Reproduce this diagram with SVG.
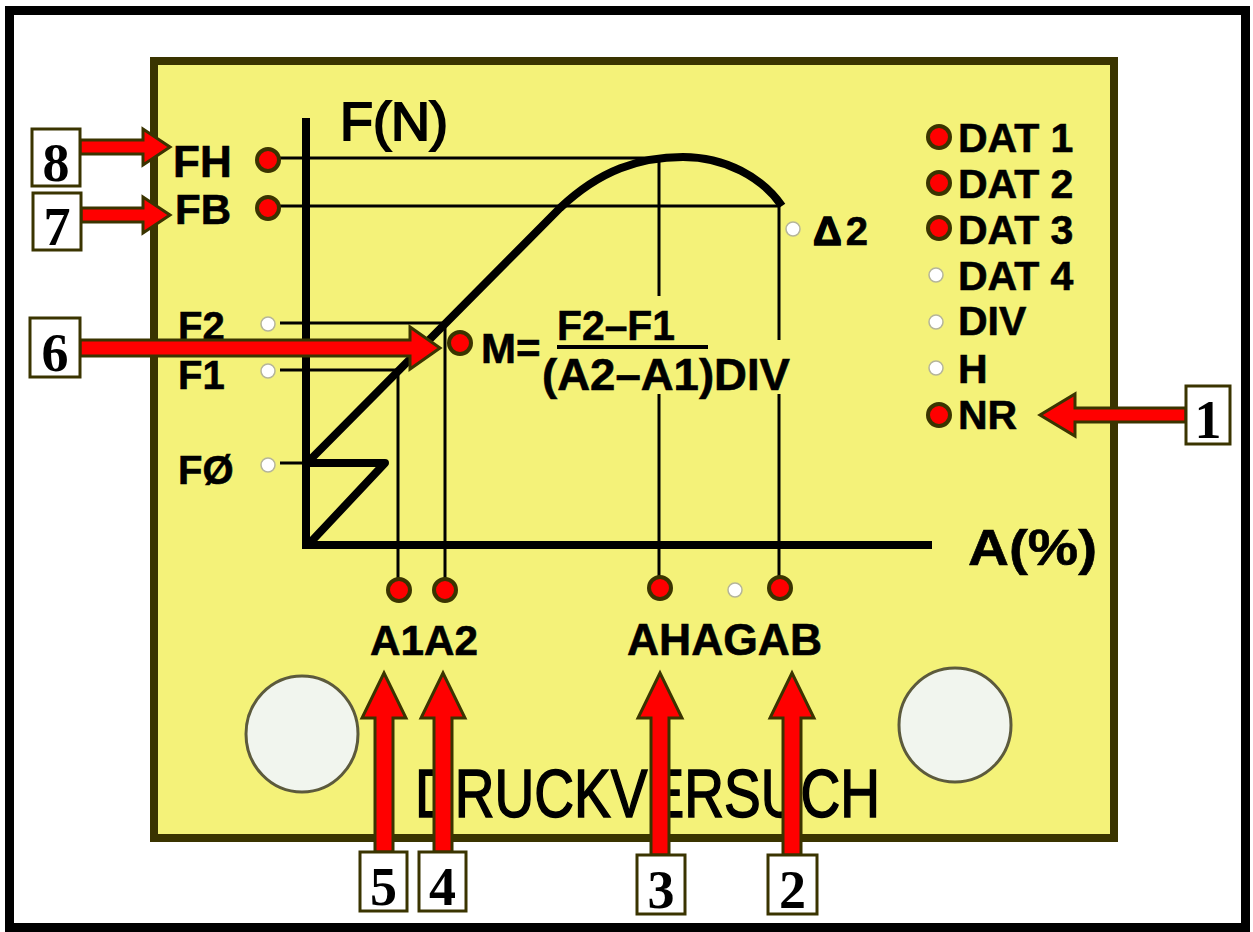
<svg xmlns="http://www.w3.org/2000/svg" width="1253" height="932" viewBox="0 0 1253 932">
<style>
.lbl{font-family:"Liberation Sans",Arial,sans-serif;font-weight:bold;fill:#000;stroke:#000;stroke-width:0.6}
.thin{stroke:#000;stroke-width:3;fill:none}
.thick{stroke:#000;stroke-width:8;fill:none;stroke-linejoin:round}
.rd{fill:#ff0000;stroke:#3a3400;stroke-width:4}
.wd{fill:#ffffff;stroke:#b5b59a;stroke-width:1.5}
.arr{fill:#ff0000;stroke:#3a3400;stroke-width:3;stroke-linejoin:miter}
.box{fill:#ffffff;stroke:#3a3400;stroke-width:3}
.num{font-family:"Liberation Serif","Times New Roman",serif;font-weight:bold;font-size:54px;text-anchor:middle;fill:#000}
</style>
<rect x="0" y="0" width="1253" height="932" fill="#ffffff"/>
<rect x="9.5" y="10.5" width="1236" height="917" fill="none" stroke="#000" stroke-width="9"/>
<g id="panel">
<rect x="154" y="61" width="960" height="777" fill="#f4f279" stroke="#3a3400" stroke-width="8"/>
<ellipse cx="302" cy="734" rx="56" ry="58" fill="#f1f5ee" stroke="#5c5a3c" stroke-width="3"/>
<ellipse cx="955" cy="725" rx="56" ry="57" fill="#f1f5ee" stroke="#5c5a3c" stroke-width="3"/>
<text x="415" y="817" font-family="Liberation Sans,Arial,sans-serif" font-size="68" textLength="465" lengthAdjust="spacingAndGlyphs" fill="#000" stroke="#000" stroke-width="1.6">DRUCKVERSUCH</text>
</g>
<g id="chart">
<line class="thick" x1="306" y1="118" x2="306" y2="549"/>
<line class="thick" x1="302" y1="545" x2="932" y2="545"/>
<path class="thick" d="M306 463 L385 463 L308 545"/>
<path class="thick" d="M308 462 L560 208 C600 170 640 157 683 157 C725 157 762 177 782 206"/>
<line class="thin" x1="280" y1="158" x2="662" y2="158"/>
<line class="thin" x1="280" y1="206" x2="780" y2="206"/>
<line class="thin" x1="280" y1="323" x2="446" y2="323"/>
<line class="thin" x1="280" y1="370" x2="398" y2="370"/>
<line class="thin" x1="280" y1="463" x2="306" y2="463"/>
<line class="thin" x1="398" y1="370" x2="398" y2="582"/>
<line class="thin" x1="445" y1="323" x2="445" y2="582"/>
<line class="thin" x1="659" y1="158" x2="659" y2="296"/>
<line class="thin" x1="659" y1="394" x2="659" y2="580"/>
<line class="thin" x1="779" y1="206" x2="779" y2="340"/>
<line class="thin" x1="779" y1="394" x2="779" y2="580"/>
<text x="340" y="140" font-family="Liberation Sans,Arial,sans-serif" font-size="54" stroke="#000" stroke-width="2" fill="#000">F(N)</text>
<text x="968" y="565" class="lbl" font-size="50" textLength="129" lengthAdjust="spacingAndGlyphs">A(%)</text>
</g>
<g id="left-labels">
<text x="173" y="177" class="lbl" font-size="44">FH</text>
<text x="175" y="224" class="lbl" font-size="42">FB</text>
<text x="178" y="340" class="lbl" font-size="40">F2</text>
<text x="178" y="389" class="lbl" font-size="40">F1</text>
<text x="178" y="484" class="lbl" font-size="40">FØ</text>
<circle class="rd" cx="268" cy="160" r="11"/>
<circle class="rd" cx="268" cy="208" r="11"/>
<circle class="wd" cx="268" cy="324" r="7"/>
<circle class="wd" cx="268" cy="371" r="7"/>
<circle class="wd" cx="268" cy="465" r="7"/>
</g>
<g id="formula">
<circle class="rd" cx="460" cy="343" r="11"/>
<text x="481" y="363" class="lbl" font-size="42">M=</text>
<text x="557" y="340" class="lbl" font-size="42" textLength="118" lengthAdjust="spacingAndGlyphs">F2–F1</text>
<line x1="557" y1="347" x2="708" y2="347" stroke="#000" stroke-width="4"/>
<text x="542" y="390" class="lbl" font-size="44" textLength="248" lengthAdjust="spacingAndGlyphs">(A2–A1)DIV</text>
</g>
<g id="delta2">
<circle class="wd" cx="793" cy="229" r="7"/>
<text x="813" y="245" class="lbl" font-size="40"><tspan font-size="40" stroke-width="1.5">Δ</tspan><tspan dx="4">2</tspan></text>
</g>
<g id="right-labels">
<circle class="rd" cx="939" cy="137" r="11"/>
<circle class="rd" cx="939" cy="183" r="11"/>
<circle class="rd" cx="939" cy="228" r="11"/>
<circle class="wd" cx="936" cy="275" r="7"/>
<circle class="wd" cx="936" cy="322" r="7"/>
<circle class="wd" cx="936" cy="368" r="7"/>
<circle class="rd" cx="939" cy="415" r="11"/>
<text x="958" y="152" class="lbl" font-size="41">DAT 1</text>
<text x="958" y="198" class="lbl" font-size="41">DAT 2</text>
<text x="958" y="244" class="lbl" font-size="41">DAT 3</text>
<text x="958" y="290" class="lbl" font-size="41">DAT 4</text>
<text x="958" y="335" class="lbl" font-size="41">DIV</text>
<text x="958" y="383" class="lbl" font-size="41">H</text>
<text x="958" y="429" class="lbl" font-size="41">NR</text>
</g>
<g id="bottom-labels">
<circle class="rd" cx="399" cy="590" r="11"/>
<circle class="rd" cx="445" cy="590" r="11"/>
<circle class="rd" cx="660" cy="588" r="11"/>
<circle class="wd" cx="735" cy="590" r="7"/>
<circle class="rd" cx="780" cy="588" r="11"/>
<text x="370" y="655" class="lbl" font-size="42" textLength="108" lengthAdjust="spacingAndGlyphs">A1A2</text>
<text x="627" y="655" class="lbl" font-size="44" textLength="195" lengthAdjust="spacingAndGlyphs">AHAGAB</text>
</g>
<g id="connectors">
<polygon class="arr" points="80,140 143,140 143,129 170,147 143,165 143,154 80,154"/>
<polygon class="arr" points="81,208 143,208 143,197 170,215 143,233 143,222 81,222"/>
<polygon class="arr" points="80,340 410,340 410,327 440,348 410,369 410,356 80,356"/>
<polygon class="arr" points="1186,408 1075,408 1075,394 1040,415 1075,436 1075,422 1186,422"/>
<polygon class="arr" points="375,852 375,718 362,718 384,673 406,718 393,718 393,852"/>
<polygon class="arr" points="434,852 434,718 421,718 443,673 465,718 452,718 452,852"/>
<polygon class="arr" points="651,855 651,718 638,718 660,673 682,718 669,718 669,855"/>
<polygon class="arr" points="783,855 783,718 770,718 792,673 814,718 801,718 801,855"/>
</g>
<g id="box8"><rect class="box" x="32" y="129" width="48" height="57"/><text class="num" x="56" y="181">8</text></g>
<g id="box7"><rect class="box" x="33" y="193" width="48" height="57"/><text class="num" x="57" y="245">7</text></g>
<g id="box6"><rect class="box" x="30" y="318" width="50" height="59"/><text class="num" x="55" y="371">6</text></g>
<g id="box1"><rect class="box" x="1186" y="386" width="44" height="58"/><text class="num" x="1208" y="438">1</text></g>
<g id="box5"><rect class="box" x="360" y="852" width="47" height="59"/><text class="num" x="383.5" y="905">5</text></g>
<g id="box4"><rect class="box" x="419" y="852" width="47" height="59"/><text class="num" x="442.5" y="905">4</text></g>
<g id="box3"><rect class="box" x="637" y="855" width="48" height="59"/><text class="num" x="661" y="908">3</text></g>
<g id="box2"><rect class="box" x="768" y="855" width="49" height="59"/><text class="num" x="792.5" y="908">2</text></g>
</svg>
